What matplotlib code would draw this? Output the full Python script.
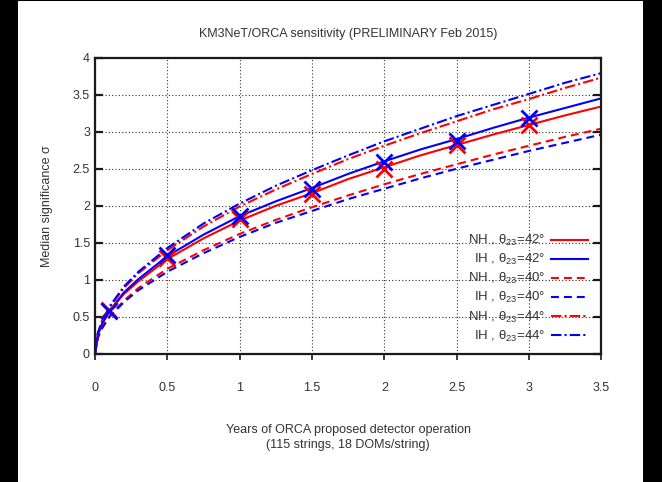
import matplotlib
matplotlib.use('Agg')
import matplotlib.pyplot as plt
from matplotlib.patches import Rectangle

plt.rcParams['font.family'] = ['Liberation Sans', 'DejaVu Sans']
plt.rcParams['mathtext.fontset'] = 'custom'
plt.rcParams['mathtext.rm'] = 'Liberation Sans'
plt.rcParams['mathtext.it'] = 'Liberation Sans:italic'

# values
years = [0, 0.02, 0.05, 0.1, 0.2, 0.3, 0.5, 0.75, 1, 1.25, 1.5, 1.75,
         2, 2.25, 2.5, 2.75, 3, 3.25, 3.5]
nh42 = [0, 0.26, 0.41, 0.58, 0.81, 0.98, 1.28, 1.56, 1.80, 2.00, 2.17, 2.36,
        2.52, 2.68, 2.82, 2.96, 3.09, 3.22, 3.34]
ih42 = [0, 0.26, 0.41, 0.58, 0.83, 1.01, 1.32, 1.61, 1.86, 2.06, 2.24, 2.43,
        2.60, 2.76, 2.90, 3.05, 3.19, 3.32, 3.45]
nh40 = [0, 0.23, 0.36, 0.51, 0.72, 0.89, 1.15, 1.40, 1.62, 1.81, 1.98, 2.14,
        2.29, 2.43, 2.56, 2.69, 2.81, 2.93, 3.04]
ih40 = [0, 0.22, 0.35, 0.50, 0.70, 0.86, 1.11, 1.36, 1.58, 1.77, 1.93, 2.09,
        2.23, 2.37, 2.50, 2.62, 2.74, 2.85, 2.96]
nh44 = [0, 0.28, 0.44, 0.63, 0.89, 1.09, 1.40, 1.72, 1.99, 2.22, 2.43, 2.63,
        2.81, 2.98, 3.14, 3.30, 3.44, 3.59, 3.73]
ih44 = [0, 0.29, 0.45, 0.64, 0.91, 1.11, 1.43, 1.76, 2.03, 2.27, 2.48, 2.68,
        2.87, 3.04, 3.21, 3.36, 3.51, 3.66, 3.79]

mark_years = [0.1, 0.5, 1, 1.5, 2, 2.5, 3]
nh42_pts = [0.60, 1.30, 1.82, 2.16, 2.50, 2.82, 3.09]
ih42_pts = [0.58, 1.33, 1.86, 2.22, 2.59, 2.87, 3.18]

xticks = [0, 0.5, 1, 1.5, 2, 2.5, 3, 3.5]
yticks = [0, 0.5, 1, 1.5, 2, 2.5, 3, 3.5, 4]

fig = plt.figure(figsize=(6.62, 4.82), dpi=100, facecolor='black')
fig.patches.append(Rectangle((18 / 662, 0), 625 / 662, 481 / 482,
                             transform=fig.transFigure, facecolor='white',
                             edgecolor='none', zorder=-1))
ax = fig.add_axes([0.1435, 0.2656, 0.7651, 0.6151])

dash = (0, (3.8, 2.4))
dashdot = (0, (5, 1.5, 1, 1.5))
lw = 1.5
ax.plot(years, nh42, color='red', lw=lw, ls='-', label=r'NH , $\mathrm{\theta}_{23}$=42°')
ax.plot(years, ih42, color='blue', lw=lw, ls='-', label=r'IH , $\mathrm{\theta}_{23}$=42°')
ax.plot(years, nh40, color='red', lw=lw, ls=dash, label=r'NH , $\mathrm{\theta}_{23}$=40°')
ax.plot(years, ih40, color='blue', lw=lw, ls=dash, label=r'IH , $\mathrm{\theta}_{23}$=40°')
ax.plot(years, nh44, color='red', lw=lw, ls=dashdot, label=r'NH , $\mathrm{\theta}_{23}$=44°')
ax.plot(years, ih44, color='blue', lw=lw, ls=dashdot, label=r'IH , $\mathrm{\theta}_{23}$=44°')
ax.plot(mark_years, nh42_pts, ls='none', marker='x', ms=11, mew=2, color='red')
ax.plot(mark_years, ih42_pts, ls='none', marker='x', ms=11, mew=2, color='blue')

ax.set_xlim(0, 3.5)
ax.set_ylim(0, 4)
ax.set_xticks(xticks)
ax.set_xticklabels(['0', '0.5', '1', '1.5', '2', '2.5', '3', '3.5'])
ax.set_yticks(yticks)
ax.set_yticklabels(['0', '0.5', '1', '1.5', '2', '2.5', '3', '3.5', '4'])
ax.grid(True, color='#333333', ls=(0, (1, 2)), lw=0.8)
for s in ax.spines.values():
    s.set_linewidth(1.6)
    s.set_color('#1a1a1a')
ax.tick_params(axis='y', direction='in', length=6, width=1.6, right=True,
               pad=3.6, labelsize=9, colors='#1a1a1a', labelcolor='#333333')
ax.tick_params(axis='x', direction='out', length=4.5, width=1.2, top=False,
               pad=16, labelsize=9, colors='#1a1a1a', labelcolor='#333333')

ax.set_title('KM3NeT/ORCA sensitivity (PRELIMINARY Feb 2015)', fontsize=9,
             color='#333333', pad=15)
ax.set_xlabel('Years of ORCA proposed detector operation\n(115 strings, 18 DOMs/string)',
              fontsize=9, color='#333333', labelpad=21, linespacing=1.35)
ax.set_ylabel('Median significance σ', fontsize=9, color='#333333', labelpad=14)

ax.legend(loc='lower right', bbox_to_anchor=(0.973, 0.035), frameon=False,
          markerfirst=False, fontsize=9.5, handlelength=2.8, handletextpad=0.4,
          labelspacing=0.3, borderpad=0, borderaxespad=0, labelcolor='#333333')

fig.savefig('out.png', dpi=100, facecolor='black')
